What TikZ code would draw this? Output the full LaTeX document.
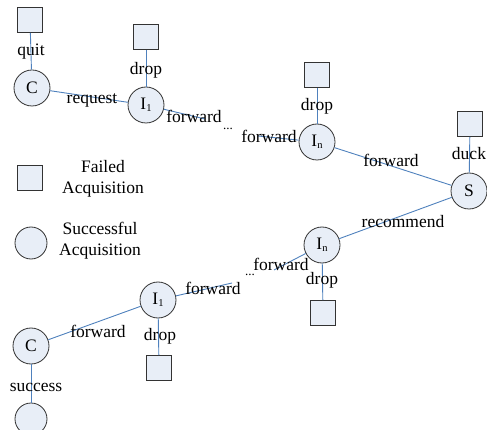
\documentclass[tikz,border=0pt]{standalone}
\usepackage{fontspec}
\setmainfont{Liberation Serif}
\definecolor{nodefill}{HTML}{E8EEF7}
\definecolor{nodeline}{HTML}{333333}
\definecolor{linkblue}{HTML}{4F81BD}
\newcommand{\sub}[1]{\raisebox{-2.5pt}{\fontsize{10.5}{11}\selectfont #1}}
\begin{document}
\begin{tikzpicture}[x=1pt,y=-1pt,
  every node/.style={font=\fontsize{17.5}{21}\selectfont},
  state/.style={circle,draw=nodeline,fill=nodefill,line width=0.8pt,minimum size=36pt,inner sep=0pt},
  fail/.style={rectangle,draw=nodeline,fill=nodefill,line width=0.8pt,minimum size=25pt,inner sep=0pt},
  link/.style={draw=linkblue,line width=0.9pt},
  lbl/.style={inner sep=0pt},
  dots/.style={inner sep=0pt,font=\fontsize{13}{14}\selectfont}]
\useasboundingbox (0,0) rectangle (487,430);
\begin{scope}
\clip (0,0) rectangle (487,430);
% nodes, top chain
\node[fail] (q1) at (30,20) {};
\node[state] (c1) at (32,88) {C};
\node[fail] (d1) at (146,37) {};
\node[state] (i1) at (146,105) {I\sub{1}};
\coordinate (e1) at (205,119);
\node[fail] (d2) at (317,75) {};
\node[state] (in1) at (317,142) {I\sub{n}};
\coordinate (e2) at (258,136);
\node[fail] (d3) at (470,124) {};
\node[state] (s) at (469,191) {S};
% bottom chain
\node[state] (in2) at (322,245) {I\sub{n}};
\node[fail] (d4) at (323,313) {};
\coordinate (e3) at (274,270);
\node[state] (i2) at (158,300) {I\sub{1}};
\node[fail] (d5) at (159,368) {};
\coordinate (e4) at (232,283);
\node[state] (c2) at (31,346) {C};
\node[state,minimum size=32pt] (ok) at (31,419) {};
% legend
\node[fail] (lf) at (30,178) {};
\node[state,minimum size=32pt] (ls) at (31,243) {};
\node[align=center] (tf) at (103,179) {Failed\\Acquisition};
\node[align=center] (ts) at (100,241) {Successful\\Acquisition};
% links
\path[link] (q1) -- (c1);
\path[link] (c1) -- (i1);
\path[link] (d1) -- (i1);
\path[link] (i1) -- (e1);
\path[link] (e2) -- (in1);
\path[link] (d2) -- (in1);
\path[link] (in1) -- (s);
\path[link] (d3) -- (s);
\path[link] (s) -- (in2);
\path[link] (e3) -- (in2);
\path[link] (in2) -- (d4);
\path[link] (i2) -- (e4);
\path[link] (i2) -- (d5);
\path[link] (c2) -- (i2);
\path[link] (c2) -- (ok);
% labels
\node[lbl] (l1) at (31,52) {quit};
\node[lbl] (l2) at (146,70) {drop};
\node[lbl] (l3) at (92,100) {request};
\node[lbl] (l4) at (194,116) {forward};
\node[dots] (l5) at (228,129) {...};
\node[lbl] (l6) at (269,136) {forward};
\node[lbl] (l7) at (317,106) {drop};
\node[lbl] (l8) at (391,160) {forward};
\node[lbl] (l9) at (469,154) {duck};
\node[lbl] (l10) at (403,222) {recommend};
\node[lbl] (l11) at (281,264) {forward};
\node[dots] (l12) at (250,275) {...};
\node[lbl] (l13) at (322,280) {drop};
\node[lbl] (l14) at (213,288) {forward};
\node[lbl] (l15) at (98,331) {forward};
\node[lbl] (l16) at (160,336) {drop};
\node[lbl] (l17) at (36,387) {success};
\end{scope}
\end{tikzpicture}
\end{document}
